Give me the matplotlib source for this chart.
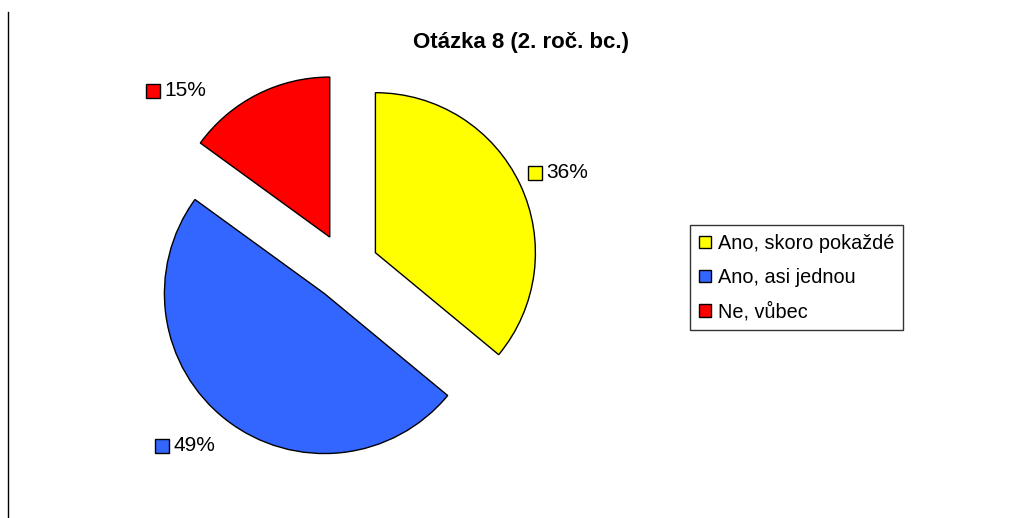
import matplotlib
matplotlib.use("Agg")
import matplotlib.pyplot as plt
import numpy as np
from matplotlib.lines import Line2D
from matplotlib.patches import Patch

plt.rcParams["font.family"] = ["Liberation Sans", "DejaVu Sans"]

title = "Otázka 8 (2. roč. bc.)"
categories = ["Ano, skoro pokaždé", "Ano, asi jednou", "Ne, vůbec"]
shares = [36, 49, 15]
colors = ["#ffff00", "#3366ff", "#ff0000"]

W, H = 1023, 518
fig = plt.figure(figsize=(W / 100, H / 100), dpi=100)
ax = fig.add_axes([0, 0, 1, 1])

# pie laid out in pixel units (y measured upward); explode is in the same units
cx, cy, r = 345, H - 267, 160
explode = 0.21 * r
wedges, _ = ax.pie(
    shares,
    colors=colors,
    startangle=90,
    counterclock=False,
    explode=[explode] * len(shares),
    center=(cx, cy),
    radius=r,
    wedgeprops={"edgecolor": "black", "linewidth": 1.0},
)
ax.set_xlim(0, W)
ax.set_ylim(0, H)
ax.set_aspect("auto")
ax.axis("off")

# percentage labels next to the arc midpoint of each exploded wedge
label_offsets = [(15, 12), (-64, -26), (-104, 4)]
for w, val, col, (dx, dy) in zip(wedges, shares, colors, label_offsets):
    mid = np.deg2rad((w.theta1 + w.theta2) / 2)
    ox, oy = w.center
    ax_x = ox + r * np.cos(mid)
    ax_y = oy + r * np.sin(mid)
    sx, sy = ax_x + dx, ax_y + dy
    ax.plot([sx], [sy], marker="s", ms=9.5, mfc=col, mec="black", mew=1.0, ls="none")
    ax.text(sx + 11, sy, f"{val}%", ha="left", va="center", fontsize=15)

fig.text(521 / W, 1 - 42 / H, title, ha="center", va="center",
         fontsize=16, fontweight="bold")

handles = [Patch(facecolor=c, edgecolor="black", linewidth=1.0) for c in colors]
leg = fig.legend(
    handles, categories,
    loc="upper left",
    bbox_to_anchor=(690 / W, 1 - 225 / H),
    borderaxespad=0,
    fontsize=14.3,
    frameon=True,
    fancybox=False,
    handlelength=0.6,
    handleheight=0.6,
    handletextpad=0.35,
    labelspacing=0.75,
    borderpad=0.45,
)
leg.get_frame().set_edgecolor("black")
leg.get_frame().set_linewidth(1.0)

fig.add_artist(Line2D([7.5 / W, 7.5 / W], [0, 1 - 12 / H], color="black", lw=1.0))

fig.savefig("out.png", dpi=100)
